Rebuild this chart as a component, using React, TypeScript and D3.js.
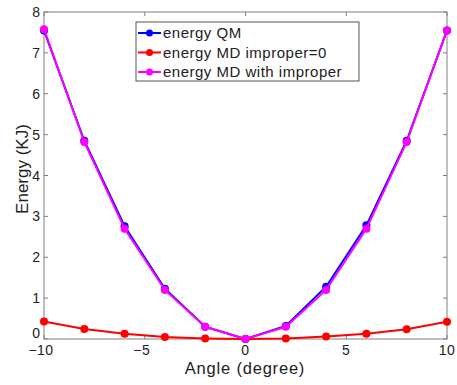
import React from "react";
import * as d3 from "d3";

const angles = [-10, -8, -6, -4, -2, 0, 2, 4, 6, 8, 10];
const energyQM = [7.55, 4.85, 2.76, 1.23, 0.3, 0, 0.32, 1.28, 2.78, 4.85, 7.55];
const energyMD0 = [0.43, 0.245, 0.13, 0.05, 0.015, 0, 0.015, 0.06, 0.13, 0.24, 0.42];
const energyMDImp = [7.58, 4.82, 2.7, 1.2, 0.3, 0, 0.3, 1.2, 2.7, 4.82, 7.55];
const seriesNames = ["energy QM", "energy MD improper=0", "energy MD with improper"];
const seriesColors = ["#0000ff", "#ff0000", "#ff00ff"];
const xTicks = [-10, -5, 0, 5, 10];
const yTicks = [0, 1, 2, 3, 4, 5, 6, 7, 8];

const W = 457, H = 385;
const L = 44, R = 447, T = 12, B = 339;

export default function App() {
  const x = d3.scaleLinear().domain([-10, 10]).range([L, R]);
  const y = d3.scaleLinear().domain([0, 8]).range([B, T]);
  const line = d3.line<number>().x((_, i) => x(angles[i])).y((d) => y(d));
  const data = [energyQM, energyMD0, energyMDImp];
  const font = "Helvetica, Arial, 'Liberation Sans', sans-serif";
  const axisColor = "#808080";
  const tickLen = 4;
  return (
    <svg width={W} height={H} style={{ position: "absolute", left: 0, top: 0, background: "#fff" }} fontFamily={font}>
      <rect x={0} y={0} width={W} height={H} fill="#fff" />
      <rect x={L} y={T} width={R - L} height={B - T} fill="none" stroke={axisColor} strokeWidth={1} />
      {xTicks.map((t) => (
        <g key={"x" + t}>
          <line x1={x(t)} x2={x(t)} y1={B} y2={B - tickLen} stroke={axisColor} />
          <line x1={x(t)} x2={x(t)} y1={T} y2={T + tickLen} stroke={axisColor} />
          <text x={x(t) - (t < 0 ? 3 : 0)} y={B + 16} textAnchor="middle" fontSize={14} letterSpacing={0.5} fill="#222">
            {t < 0 ? "\u2212" + Math.abs(t) : t}
          </text>
        </g>
      ))}
      {yTicks.map((t) => (
        <g key={"y" + t}>
          <line x1={L} x2={L + tickLen} y1={y(t)} y2={y(t)} stroke={axisColor} />
          <line x1={R} x2={R - tickLen} y1={y(t)} y2={y(t)} stroke={axisColor} />
          <text x={L - 4} y={y(t) + (t === 0 ? -1 : 5)} textAnchor="end" fontSize={14} fill="#222">{t}</text>
        </g>
      ))}
      {data.map((s, k) => (
        <g key={"s" + k}>
          <path d={line(s) || ""} fill="none" stroke={seriesColors[k]} strokeWidth={2} />
          {s.map((v, i) => (
            <circle key={i} cx={x(angles[i])} cy={y(v)} r={4} fill={seriesColors[k]} />
          ))}
        </g>
      ))}
      <rect x={136} y={22} width={223} height={59} fill="#fff" stroke="#555" strokeWidth={1} />
      {seriesNames.map((n, k) => {
        const ly = 33 + k * 19.5;
        return (
          <g key={"l" + k}>
            <line x1={138} x2={161} y1={ly} y2={ly} stroke={seriesColors[k]} strokeWidth={2} />
            <circle cx={149.5} cy={ly} r={3.5} fill={seriesColors[k]} />
            <text x={163} y={ly + 5} fontSize={15} letterSpacing={0.5} fill="#222">{n}</text>
          </g>
        );
      })}
      <text x={245} y={374} textAnchor="middle" fontSize={16.5} letterSpacing={0.8} fill="#222">Angle (degree)</text>
      <text transform={`translate(28,169) rotate(-90)`} textAnchor="middle" fontSize={17} fill="#222">Energy (KJ)</text>
    </svg>
  );
}
